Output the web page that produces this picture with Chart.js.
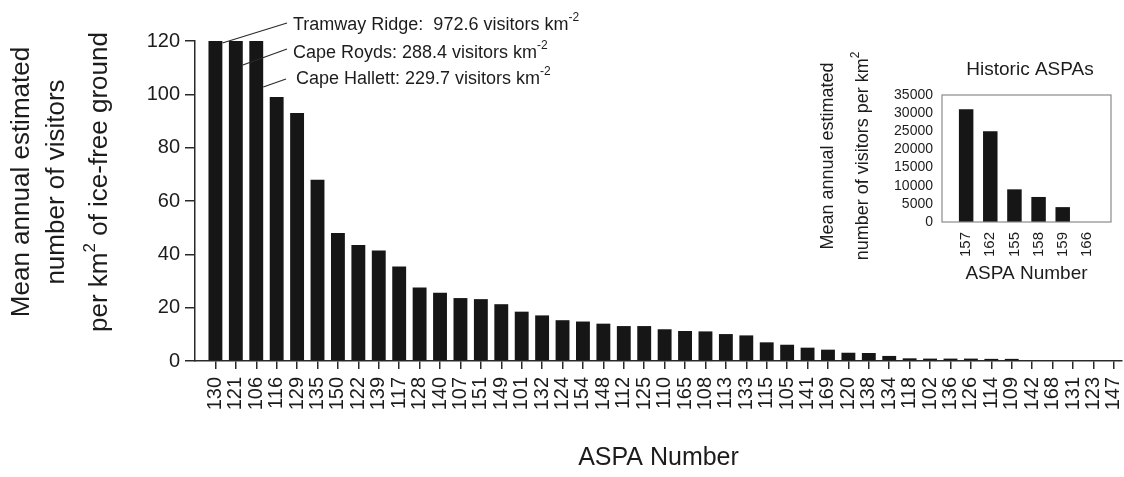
<!DOCTYPE html>
<html>
<head>
<meta charset="utf-8">
<script src="https://cdn.jsdelivr.net/npm/chart.js@4.4.1/dist/chart.umd.min.js"></script>
<style>
  html, body { margin: 0; padding: 0; background: #fff; }
  #wrap { position: relative; width: 1124px; height: 477px; }
  #main { position: absolute; left: 0; top: 0; }
  #inset { position: absolute; left: 800px; top: 50px; }
</style>
</head>
<body>
<div id="wrap">
  <canvas id="main" width="1124" height="477"></canvas>
  <canvas id="inset" width="320" height="240"></canvas>
</div>
<script>
// ===== data =====
const aspaLabels = ["130", "121", "106", "116", "129", "135", "150", "122", "139", "117",
  "128", "140", "107", "151", "149", "101", "132", "124", "154", "148",
  "112", "125", "110", "165", "108", "113", "133", "115", "105", "141",
  "169", "120", "138", "134", "118", "102", "136", "126", "114", "109",
  "142", "168", "131", "123", "147"];
const visitorsPerKm2 = [972.6, 288.4, 229.7, 99, 93, 68, 48, 43.5, 41.4, 35.4,
  27.6, 25.6, 23.6, 23.2, 21.3, 18.5, 17.1, 15.3, 14.8, 14.0,
  13.1, 13.1, 11.9, 11.25, 11.1, 10.1, 9.6, 7.0, 6.1, 5.0,
  4.25, 3.1, 3.0, 1.9, 1.0, 0.9, 0.9, 0.9, 0.8, 0.8,
  0, 0, 0, 0, 0];
const yTicks = [0, 20, 40, 60, 80, 100, 120];
const calloutNames = ["Tramway Ridge", "Cape Royds", "Cape Hallett"];

const historicLabels = ["157", "162", "155", "158", "159", "166"];
const historicVisitors = [31100, 25000, 9000, 6900, 4100, 0];
const historicTicks = [0, 5000, 10000, 15000, 20000, 25000, 30000, 35000];

const FONT = "'Liberation Sans', Arial, sans-serif";
const INK = "#1c1c1c";
Chart.defaults.font.family = FONT;
Chart.defaults.color = INK;

// text with a raised piece, e.g. km^-2 ; parts = [[text, size, raise]]
function drawRich(ctx, parts, x, y, align) {
  let total = 0;
  parts.forEach(p => { ctx.font = p[1] + "px " + FONT; total += ctx.measureText(p[0]).width; });
  let cx = align === "center" ? x - total / 2 : x;
  ctx.textAlign = "left";
  ctx.textBaseline = "middle";
  parts.forEach(p => {
    ctx.font = p[1] + "px " + FONT;
    ctx.fillText(p[0], cx, y - p[2]);
    cx += ctx.measureText(p[0]).width;
  });
}

// ===== main chart =====
const mainText = {
  id: "mainText",
  afterDraw(chart) {
    const { ctx, scales: { x, y } } = chart;
    ctx.save();
    ctx.fillStyle = INK;
    ctx.strokeStyle = "#2a2a2a";
    ctx.lineWidth = 1.2;

    // callouts for the three bars that run off the scale
    const top = y.getPixelForValue(yTicks[yTicks.length - 1]);
    const starts = [2, 24, 46];
    const ends = [[287, 23], [287, 49], [286, 79]];
    const textPos = [[293, 25], [293, 53], [296, 79]];
    calloutNames.forEach((name, i) => {
      ctx.beginPath();
      ctx.moveTo(x.getPixelForValue(i) + 7, top + starts[i]);
      ctx.lineTo(ends[i][0], ends[i][1]);
      ctx.stroke();
      const sep = i === 0 ? ":  " : ": ";
      drawRich(ctx, [
        [name + sep + visitorsPerKm2[i].toFixed(1) + " visitors km", 18, 0],
        ["-2", 12, 7]
      ], textPos[i][0], textPos[i][1], "left");
    });

    // y axis title (three lines, rotated)
    const lines = [
      [["Mean annual estimated", 26, 0]],
      [["number of visitors", 26, 0]],
      [["per km", 26, 0], ["2", 17, 10], [" of ice-free ground", 26, 0]]
    ];
    const lx = [22, 57, 100];
    lines.forEach((parts, i) => {
      ctx.save();
      ctx.translate(lx[i], 182);
      ctx.rotate(-Math.PI / 2);
      drawRich(ctx, parts, 0, 0, "center");
      ctx.restore();
    });
    ctx.restore();
  }
};

new Chart(document.getElementById("main"), {
  type: "bar",
  data: {
    datasets: [{
      data: visitorsPerKm2.map((v, i) => ({ x: i, y: v })),
      backgroundColor: "#161616",
      borderWidth: 0,
      barPercentage: 0.68,
      categoryPercentage: 1,
      clip: 0
    }]
  },
  options: {
    responsive: false,
    animation: false,
    layout: { padding: { top: 41, left: 0, right: 2, bottom: 0 } },
    plugins: { legend: { display: false }, tooltip: { enabled: false } },
    scales: {
      x: {
        type: "linear",
        min: -1,
        max: aspaLabels.length - 0.6,
        offset: false,
        afterBuildTicks: s => { s.ticks = aspaLabels.map((_, i) => ({ value: i })); },
        afterFit: s => { s.height = 116; s.paddingRight = 0; s.paddingLeft = 0; },
        grid: { display: true, drawOnChartArea: false, drawTicks: true, tickLength: 8, offset: false, color: "#2a2a2a", lineWidth: 1.5 },
        border: { display: true, color: "#2a2a2a", width: 1.5 },
        ticks: {
          autoSkip: false, minRotation: 90, maxRotation: 90, padding: 8,
          font: { size: 20, lineHeight: 1 }, color: INK,
          callback: v => aspaLabels[v] ?? ""
        },
        title: {
          display: true, text: "ASPA Number",
          font: { size: 25 }, color: INK, padding: { top: 0, bottom: 4 }
        }
      },
      y: {
        min: 0,
        max: 120,
        afterBuildTicks: s => { s.ticks = yTicks.map(v => ({ value: v })); },
        afterFit: s => { s.width = 195; },
        grid: { display: true, drawOnChartArea: false, drawTicks: true, tickLength: 10, color: "#2a2a2a", lineWidth: 1.5 },
        border: { display: true, color: "#2a2a2a", width: 1.5 },
        ticks: { autoSkip: false, padding: 5, font: { size: 20 }, color: INK }
      }
    }
  },
  plugins: [mainText]
});

// ===== inset: historic ASPAs =====
const insetText = {
  id: "insetText",
  afterDraw(chart) {
    const { ctx, chartArea: a } = chart;
    ctx.save();
    ctx.strokeStyle = "#8a8a8a";
    ctx.lineWidth = 1.2;
    ctx.strokeRect(a.left, a.top, a.right - a.left, a.bottom - a.top);

    ctx.fillStyle = INK;
    drawRich(ctx, [["Historic ASPAs", 19, 0]], 230, 20, "center");

    const lines = [
      [["Mean annual estimated", 18, 0]],
      [["number of visitors per km", 18, 0], ["2", 12, 7]]
    ];
    const lx = [28, 63];
    lines.forEach((parts, i) => {
      ctx.save();
      ctx.translate(lx[i], 106);
      ctx.rotate(-Math.PI / 2);
      drawRich(ctx, parts, 0, 0, "center");
      ctx.restore();
    });
    ctx.restore();
  }
};

new Chart(document.getElementById("inset"), {
  type: "bar",
  data: {
    datasets: [{
      data: historicVisitors.map((v, i) => ({ x: i, y: v })),
      backgroundColor: "#161616",
      borderWidth: 0,
      barPercentage: 0.6,
      categoryPercentage: 1,
      clip: 0
    }]
  },
  options: {
    responsive: false,
    animation: false,
    layout: { padding: { top: 45, left: 0, right: 9, bottom: 0 } },
    plugins: { legend: { display: false }, tooltip: { enabled: false } },
    scales: {
      x: {
        type: "linear",
        min: -1,
        max: historicLabels.length,
        offset: false,
        afterBuildTicks: s => { s.ticks = historicLabels.map((_, i) => ({ value: i })); },
        afterFit: s => { s.height = 68; s.paddingRight = 0; s.paddingLeft = 0; },
        grid: { display: false, drawTicks: false },
        border: { display: false },
        ticks: {
          autoSkip: false, minRotation: 90, maxRotation: 90, padding: 10,
          font: { size: 15, lineHeight: 1 }, color: INK,
          callback: v => historicLabels[v] ?? ""
        },
        title: {
          display: true, text: "ASPA Number",
          font: { size: 19 }, color: INK, padding: { top: 0, bottom: 5 }
        }
      },
      y: {
        min: 0,
        max: 35000,
        afterBuildTicks: s => { s.ticks = historicTicks.map(v => ({ value: v })); },
        afterFit: s => { s.width = 142; s.paddingTop = 0; s.paddingBottom = 0; },
        grid: { display: false, drawTicks: false },
        border: { display: false },
        ticks: { autoSkip: false, padding: 9, font: { size: 14, lineHeight: 1 }, color: INK, callback: v => String(v) }
      }
    }
  },
  plugins: [insetText]
});
</script>
</body>
</html>
